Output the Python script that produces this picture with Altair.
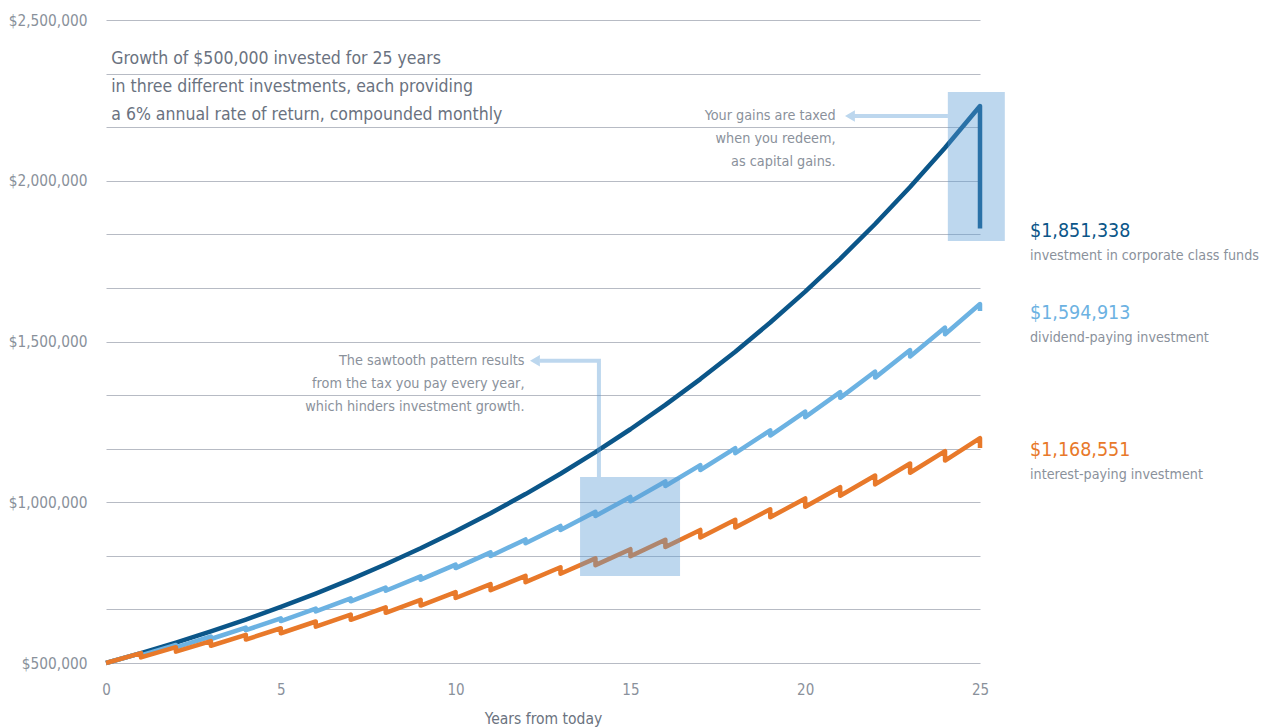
import altair as alt
import pandas as pd

# ---------------- data ----------------
years = list(range(26))

# corporate class: value at each year end, then the one-off tax on redemption
corp_values = [500000, 530839, 563580, 598340, 635244, 674425, 716022, 760184,
               807070, 856848, 909698, 965804, 1025373, 1088615, 1155757,
               1227041, 1302722, 1383069, 1468373, 1558939, 1655088, 1757171,
               1865551, 1980614, 2102775, 2232471]
corp_final = 1851338

# dividend-paying: value just before and just after each year's tax (years 1..25)
div_before = [530839, 556049, 582457, 610120, 639097, 669449, 701242, 734550,
              769431, 805969, 844246, 884348, 926337, 970336, 1016417, 1064698,
              1115265, 1168222, 1223716, 1281824, 1342711, 1406474, 1473262,
              1543242, 1616527]
div_after = [523746, 548620, 574676, 601969, 630558, 660504, 691876, 724731,
             759146, 795200, 832972, 872522, 913965, 957369, 1002845, 1050474,
             1100354, 1152625, 1207357, 1264706, 1324765, 1387673, 1453588,
             1522616, 1594913]

# interest-paying
int_before = [530839, 549174, 568142, 587766, 608067, 629071, 650798, 673280,
              696534, 720594, 745483, 771232, 797868, 825428, 853939, 883437,
              913943, 945513, 978170, 1011959, 1046909, 1083070, 1120480,
              1159181, 1199221]
int_after = [517270, 535136, 553620, 572742, 592525, 612991, 634166, 656069,
             678732, 702175, 726428, 751517, 777475, 804330, 832114, 860848,
             890584, 921344, 953169, 986089, 1020150, 1055387, 1091839,
             1129553, 1168551]

series_names = ["corporate", "dividend", "interest"]
series_colors = ["#0b5689", "#6cb2e2", "#e8792a"]
final_labels = ["$1,851,338", "$1,594,913", "$1,168,551"]
final_values = [1851338, 1594913, 1168551]
final_desc = ["investment in corporate class funds", "dividend-paying investment",
              "interest-paying investment"]

y_grid_values = [500000, 666667, 833333, 1000000, 1166667, 1333333, 1500000,
                 1666667, 1833333, 2000000, 2166667, 2333333, 2500000]
x_tick_values = [0, 5, 10, 15, 20, 25]

title_lines = ["Growth of $500,000 invested for 25 years",
               "in three different investments, each providing",
               "a 6% annual rate of return, compounded monthly"]
note1_lines = ["The sawtooth pattern results",
               "from the tax you pay every year,",
               "which hinders investment growth."]
note2_lines = ["Your gains are taxed", "when you redeem,", "as capital gains."]

# highlight boxes (years / dollars)
box_x1 = [13.56, 24.08]
box_x2 = [16.42, 25.71]
box_y1 = [770600, 1812600]
box_y2 = [1078500, 2276000]

# connector paths
conn_id = ["a", "a", "a", "b", "b"]
conn_x = [14.10, 14.10, 12.40, 24.08, 21.40]
conn_y = [1078500, 1440300, 1440300, 2201400, 2201400]
arrow_x = [12.27, 21.28]
arrow_y = [1440300, 2201400]

# ---------------- tables ----------------
rows = []
o = 0
for y, v in zip(years, corp_values):
    rows.append(dict(series="corporate", order=o, year=y, value=v)); o += 1
rows.append(dict(series="corporate", order=o, year=25, value=corp_final)); o += 1
for name, before, after in [("dividend", div_before, div_after),
                            ("interest", int_before, int_after)]:
    rows.append(dict(series=name, order=o, year=0, value=500000)); o += 1
    for y, b, a in zip(years[1:], before, after):
        rows.append(dict(series=name, order=o, year=y, value=b)); o += 1
        rows.append(dict(series=name, order=o, year=y, value=a)); o += 1
lines_df = pd.DataFrame(rows)

FONT = "Liberation Sans Narrow, DejaVu Sans Condensed, sans-serif"
GRAY = "#8a919b"

xscale = alt.Scale(domain=[0, 25], nice=False, zero=False)
yscale = alt.Scale(domain=[500000, 2500000], nice=False, zero=False)

x_axis = alt.Axis(values=x_tick_values, title="Years from today",
                  grid=False, ticks=False, domain=False, labelFlush=False,
                  labelFont=FONT, labelFontSize=15, labelColor=GRAY,
                  labelPadding=19, titleFont=FONT, titleFontSize=15.5,
                  titleColor="#6b7380", titleFontWeight="normal",
                  titlePadding=14)
y_axis = alt.Axis(values=y_grid_values, title=None, ticks=False,
                  domain=False, grid=True, gridColor="#b7bbc4", labelFlush=False,
                  gridWidth=1, labelFont=FONT, labelFontSize=15.3,
                  labelColor=GRAY, labelPadding=19,
                  labelExpr="datum.value % 500000 === 0 ? format(datum.value, '$,') : ''")


def X(field):
    return alt.X(field, scale=xscale, axis=x_axis, title="Years from today")


def Y(field):
    return alt.Y(field, scale=yscale, axis=y_axis, title=None)


layers = []
for i, name in enumerate(series_names):
    sub = lines_df[lines_df.series == name]
    layers.append(
        alt.Chart(sub).mark_line(strokeWidth=4.5, color=series_colors[i],
                                 strokeJoin="round")
        .encode(x=X("year:Q"), y=Y("value:Q"), order="order:Q")
    )

boxes_df = pd.DataFrame(dict(x1=box_x1, x2=box_x2, y1=box_y1, y2=box_y2))
boxes = alt.Chart(boxes_df).mark_rect(color="#5b9bd5", opacity=0.4).encode(
    x=X("x1:Q"), x2="x2:Q", y=Y("y1:Q"), y2="y2:Q")

conn_df = pd.DataFrame(dict(cid=conn_id, x=conn_x, y=conn_y, o=range(len(conn_x))))
conns = alt.Chart(conn_df).mark_line(color="#5b9bd5", opacity=0.4, strokeWidth=4,
                                      strokeJoin="miter").encode(
    x=X("x:Q"), y=Y("y:Q"), detail="cid:N", order="o:Q")

arrow_df = pd.DataFrame(dict(x=arrow_x, y=arrow_y))
arrows = alt.Chart(arrow_df).mark_point(shape="triangle-left", filled=True,
                                         color="#bcd7ee", opacity=1, size=130).encode(
    x=X("x:Q"), y=Y("y:Q"))

text_df = pd.DataFrame(dict(
    x=[0.15, 11.97, 20.87],
    y=[2377400, 1440300, 2201400],
    t=[title_lines, note1_lines, note2_lines],
    kind=["title", "note", "note"],
))
title_txt = alt.Chart(text_df[text_df.kind == "title"]).mark_text(
    align="left", baseline="middle", font=FONT, fontSize=17.5, color="#6a7280",
    lineHeight=28).encode(x=X("x:Q"), y=Y("y:Q"), text="t")
note_txt = alt.Chart(text_df[text_df.kind == "note"]).mark_text(
    align="right", baseline="middle", font=FONT, fontSize=14.3, color=GRAY,
    lineHeight=23).encode(x=X("x:Q"), y=Y("y:Q"), text="t")

final_df = pd.DataFrame(dict(x=[26.43] * 3, y=final_values, lab=final_labels,
                             desc=final_desc, col=series_colors))
big = alt.Chart(final_df).mark_text(align="left", baseline="middle", font=FONT,
                                     fontSize=19.5, dy=2).encode(
    x=X("x:Q"), y=Y("y:Q"), text="lab:N",
    color=alt.Color("col:N", scale=None))
small = alt.Chart(final_df).mark_text(align="left", baseline="middle", font=FONT,
                                       fontSize=14.2, color=GRAY, dy=27).encode(
    x=X("x:Q"), y=Y("y:Q"), text="desc:N")

chart = alt.layer(*layers, boxes, conns, arrows, title_txt, note_txt, big, small).properties(
    width=874, height=643,
    autosize=alt.AutoSizeParams(type="none"),
    padding={"left": 106, "top": 20, "right": 288, "bottom": 65},
    background="white",
).configure_view(stroke=None)

chart.save("out.html", embed_options={"renderer": "svg", "actions": False})
